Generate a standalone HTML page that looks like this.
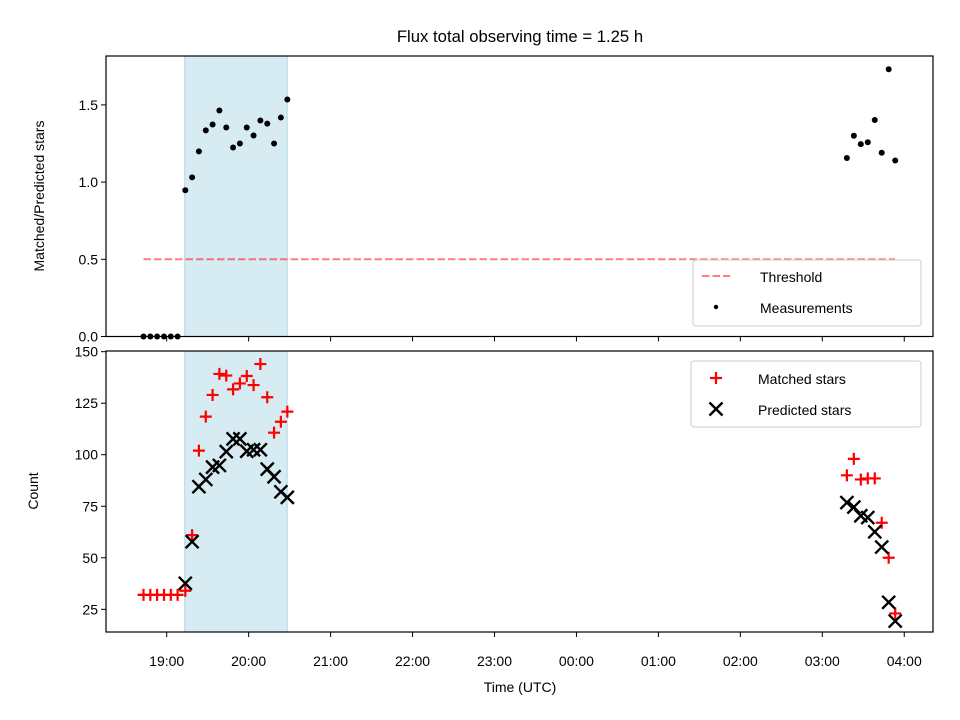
<!DOCTYPE html>
<html><head><meta charset="utf-8"><style>
html,body{margin:0;padding:0;background:#fff;}
svg{display:block;font-family:"Liberation Sans","DejaVu Sans",sans-serif;}
</style></head><body>
<svg id="chart" width="960" height="720" viewBox="0 0 960 720" xmlns="http://www.w3.org/2000/svg">
<rect width="960" height="720" fill="#fff"/>
<text x="520" y="42" font-size="16.7" text-anchor="middle" fill="#000">Flux total observing time = 1.25 h</text>
<g id="topAx"></g><g id="botAx"></g>
<text x="520" y="692" font-size="14" text-anchor="middle">Time (UTC)</text>
<text transform="translate(44,196) rotate(-90)" font-size="14" text-anchor="middle">Matched/Predicted stars</text>
<text transform="translate(38,491) rotate(-90)" font-size="14" text-anchor="middle">Count</text>
</svg>
<script>
// hours after 19:00 UTC
const times = [-0.283,-0.2,-0.117,-0.033,0.05,0.133,
 0.227,0.31,0.393,0.477,0.56,0.643,0.727,0.81,0.893,0.977,1.06,1.143,1.227,1.31,1.393,1.472,
 8.30,8.385,8.47,8.555,8.64,8.725,8.81,8.89];
const ratio = [0,0,0,0,0,0,
 0.947,1.031,1.199,1.335,1.373,1.464,1.354,1.224,1.25,1.354,1.302,1.399,1.379,1.25,1.418,1.535,
 1.156,1.30,1.246,1.258,1.402,1.19,1.731,1.14];
const matched = [32,32,32,32,32,32,
 34,61,102,118.5,129,139.2,138.4,131.7,134.6,138.2,133.8,144,127.9,110.7,116,120.9,
 90,98,88,88.5,88.5,67,50,23];
const predicted = [null,null,null,null,null,null,
 37.6,57.8,84.5,88,94,94.8,101.5,107.7,107.7,101.7,102.4,102.4,93,89.3,82,79.3,
 76.8,74.6,70.4,69.5,62.6,55.2,28.4,19.3];
const xTickLabels = ["19:00","20:00","21:00","22:00","23:00","00:00","01:00","02:00","03:00","04:00"];
const topYTicks = [0.0,0.5,1.0,1.5];
const botYTicks = [25,50,75,100,125,150];
const threshold = 0.5;
const spanStart = 0.22, spanEnd = 1.47;

const NS="http://www.w3.org/2000/svg";
const L=106,R=933;
const X=h=>166.7+h*81.95;
const TT=56,TB=336.5,BT=351,BB=632;
const YT=v=>TB-v*154.4;
const YB=v=>609.3-(v-25)*2.061;
function mk(p,tag,attrs){const e=document.createElementNS(NS,tag);for(const k in attrs)e.setAttribute(k,attrs[k]);p.appendChild(e);return e;}
const topG=document.getElementById('topAx'), botG=document.getElementById('botAx');

function axes(g,t,b,yt,Y,fmt,name){
  const sp=mk(g,'rect',{x:X(spanStart),y:t,width:X(spanEnd)-X(spanStart),height:b-t,fill:'#add8e6','fill-opacity':0.5,stroke:'#add8e6'});
  
  
  yt.forEach(v=>{
    const y=Y(v);
    const tk=mk(g,'line',{x1:L-5,x2:L,y1:y,y2:y,stroke:'#000','stroke-width':1});
    
    
    const tx=mk(g,'text',{x:L-8,y:y+5,'font-size':14,'text-anchor':'end'});
    tx.textContent=fmt(v);
    
    
  });
  xTickLabels.forEach((s,i)=>{
    const x=X(i);
    const tk=mk(g,'line',{x1:x,x2:x,y1:b,y2:b+5,stroke:'#000','stroke-width':1});
    
    
  });
}
axes(topG,TT,TB,topYTicks,YT,v=>v.toFixed(1),'top');
axes(botG,BT,BB,botYTicks,YB,v=>String(v),'bottom');
xTickLabels.forEach((s,i)=>{
  const tx=mk(botG,'text',{x:X(i),y:666,'font-size':14,'text-anchor':'middle'});
  tx.textContent=s;
  
  
});

const th=mk(topG,'line',{x1:X(times[0]),x2:X(times[times.length-1]),y1:YT(threshold),y2:YT(threshold),stroke:'#ff0000','stroke-opacity':0.5,'stroke-width':2,'stroke-dasharray':'7.5,3'});



times.forEach((h,i)=>{
  const c=mk(topG,'circle',{cx:X(h),cy:YT(ratio[i]),r:3,fill:'#000'});
  
  
});

function plus(g,x,y){return mk(g,'path',{d:`M${x-6},${y}H${x+6}M${x},${y-6}V${y+6}`,stroke:'#ff0000','stroke-width':2.2,fill:'none'});}
function cross(g,x,y){return mk(g,'path',{d:`M${x-6.5},${y-6.5}L${x+6.5},${y+6.5}M${x-6.5},${y+6.5}L${x+6.5},${y-6.5}`,stroke:'#000','stroke-width':2.4,fill:'none'});}
times.forEach((h,i)=>{
  const p=plus(botG,X(h),YB(matched[i]));
  
  
});
times.forEach((h,i)=>{
  if(predicted[i]==null)return;
  const p=cross(botG,X(h),YB(predicted[i]));
  
  
});

const f1=mk(topG,'rect',{x:L,y:TT,width:R-L,height:TB-TT,fill:'none',stroke:'#000','stroke-width':1.2});


const f2=mk(botG,'rect',{x:L,y:BT,width:R-L,height:BB-BT,fill:'none',stroke:'#000','stroke-width':1.2});



const lg1=mk(topG,'g',{});


mk(lg1,'rect',{x:693,y:260,width:228,height:66,rx:3,fill:'#fff','fill-opacity':0.8,stroke:'#ccc'});
mk(lg1,'line',{x1:702,x2:730,y1:276,y2:276,stroke:'#ff0000','stroke-opacity':0.5,'stroke-width':2,'stroke-dasharray':'7.5,3'});
let t=mk(lg1,'text',{x:760,y:282,'font-size':14});t.textContent='Threshold';
mk(lg1,'circle',{cx:716,cy:307,r:2.2,fill:'#000'});
t=mk(lg1,'text',{x:760,y:313,'font-size':14});t.textContent='Measurements';

const lg2=mk(botG,'g',{});


mk(lg2,'rect',{x:691,y:361,width:230,height:66,rx:3,fill:'#fff','fill-opacity':0.8,stroke:'#ccc'});
plus(lg2,716,378);
t=mk(lg2,'text',{x:758,y:384,'font-size':14});t.textContent='Matched stars';
cross(lg2,716,409);
t=mk(lg2,'text',{x:758,y:415,'font-size':14});t.textContent='Predicted stars';
</script>
</body></html>
